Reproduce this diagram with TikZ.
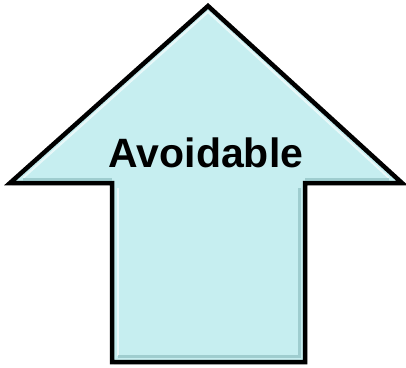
\documentclass[tikz,border=0pt]{standalone}
\usepackage{fontspec}
\setmainfont{Liberation Sans}
\usetikzlibrary{calc}
\definecolor{arrowfill}{HTML}{C6EEF0}
\definecolor{arrowdark}{HTML}{8FBFC2}
\tikzset{
  arrowbody/.style={fill=arrowfill, draw=black, line width=4.5pt, line join=miter},
  bevellight/.style={draw=white, opacity=0.6, line width=2pt},
  beveldark/.style={draw=arrowdark, opacity=0.7, line width=3pt},
  label/.style={font=\bfseries\fontsize{41}{41}\selectfont, inner sep=0pt, anchor=base}
}
\begin{document}
\begin{tikzpicture}[x=1pt,y=1pt]
\useasboundingbox (0,0) rectangle (406,367);
% shadow
\fill[black!45, opacity=0.6] (209,359) -- (404,182) -- (307,182) -- (307,3) -- (114,3) -- (114,182) -- (12,182) -- cycle;
% body
\draw[arrowbody] (208,361) -- (402,184) -- (305,184) -- (305,5) -- (112,5) -- (112,184) -- (10,184) -- cycle;
% bevel highlights
\draw[bevellight] (23,189) -- (208,355) -- (389,189);
\draw[bevellight] (118,179) -- (118,11);
\draw[beveldark] (118,11) -- (299,11) -- (299,179);
\draw[beveldark] (23,188) -- (112,188);
\draw[beveldark] (305,188) -- (389,188);
\node[label] (t) at (206,199) {Avoidable};
\end{tikzpicture}
\end{document}
